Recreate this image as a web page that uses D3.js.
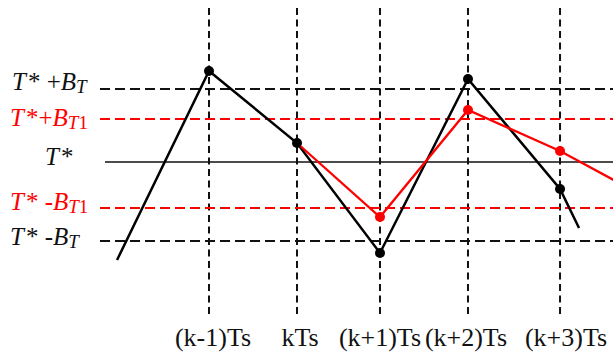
<!DOCTYPE html>
<html><head><meta charset="utf-8">
<script src="https://cdn.jsdelivr.net/npm/d3@7"></script>
<style>html,body{margin:0;padding:0;background:#fff;overflow:hidden}</style>
</head><body>
<svg id="c" width="613" height="358"></svg>
<script>
// ---- data ----
const tickLabels = ["(k-1)Ts", "kTs", "(k+1)Ts", "(k+2)Ts", "(k+3)Ts"];
const tickTimes  = [-1, 0, 0.943, 1.943, 2.989];
const levelLabels = ["T* +BT", "T*+BT1", "T*", "T* -BT1", "T* -BT"];
const levelValues = [73, 43, 0, -46, -79];
const levelKind   = ["black", "red", "center", "red", "black"];
const blackTimes  = [-2.045, -1, 0, 0.943, 1.943, 2.989, 3.205];
const blackValues = [-98, 91, 19, -91, 83, -27, -66];
const blackDots   = [1, 2, 3, 4, 5];
const redTimes    = [0, 0.943, 1.943, 2.989, 3.6];
const redValues   = [19, -55, 52, 11, -18];
const redDots     = [1, 2, 3];

// ---- scales ----
const svg = d3.select("#c");
const x = d3.scaleLinear().domain([-2, 3]).range([121, 561]);
const y = d3.scaleLinear().domain([-100, 100]).range([262, 62]);
const RED = "#ff0000";
const FONT = '"Liberation Serif"';

// vertical dashed grid lines
svg.append("g").selectAll("line").data(tickTimes).join("line")
  .attr("x1", d => x(d)).attr("x2", d => x(d))
  .attr("y1", 8).attr("y2", 318)
  .attr("stroke", "#111").attr("stroke-width", 2)
  .attr("stroke-dasharray", "7,4.5");

// horizontal levels
svg.append("g").selectAll("line").data(levelValues).join("line")
  .attr("x1", (d, i) => levelKind[i] === "center" ? 105 : 100).attr("x2", 613)
  .attr("y1", d => y(d)).attr("y2", d => y(d))
  .attr("stroke", (d, i) => levelKind[i] === "red" ? RED : "#111")
  .attr("stroke-width", (d, i) => levelKind[i] === "center" ? 1.6 : 2)
  .attr("stroke-dasharray", (d, i) => levelKind[i] === "center" ? null : "10,5");

// level labels
const labelX = [12, 10, 45, 10, 10];
const labelDy = [1, 7, 3, 2, 4];
levelLabels.forEach((s, i) => {
  const m = s.match(/^T\*( ?)([+-])?B?(T)?(1)?$/);
  const t = svg.append("text").attr("x", labelX[i]).attr("y", y(levelValues[i]) + labelDy[i])
    .style("font-family", FONT).style("font-size", "25px")
    .attr("fill", levelKind[i] === "red" ? RED : "#111");
  t.append("tspan").style("font-style", "italic").text("T");
  t.append("tspan").attr("dx", 2).text("*" + (m[1] ? "\u00a0" : ""));
  if (m[2]) {
    t.append("tspan").text(m[2] === "-" ? "-" : "+");
    t.append("tspan").style("font-style", "italic").text("B");
    t.append("tspan").style("font-style", "italic").style("font-size", "19px").attr("dy", 3).text("T");
    if (m[4]) t.append("tspan").style("font-size", "19px").text("1");
  }
});

// tick labels
const tickDx = [4, 3, 0, -2, 6];
svg.append("g").selectAll("text").data(tickLabels).join("text")
  .attr("x", (d, i) => x(tickTimes[i]) + tickDx[i]).attr("y", 346)
  .attr("text-anchor", "middle")
  .style("font-family", FONT).style("font-size", "26px")
  .attr("fill", "#111").text(d => d);

// series lines
const line = d3.line().x(d => x(d[0])).y(d => y(d[1]));
const blackPts = blackTimes.map((t, i) => [t, blackValues[i]]);
const redPts = redTimes.map((t, i) => [t, redValues[i]]);
svg.append("path").datum(blackPts).attr("d", line)
  .attr("fill", "none").attr("stroke", "#000").attr("stroke-width", 2.5);
svg.append("path").datum(redPts).attr("d", line)
  .attr("fill", "none").attr("stroke", RED).attr("stroke-width", 2.3);

// dots
svg.append("g").selectAll("circle").data(redDots).join("circle")
  .attr("cx", i => x(redTimes[i])).attr("cy", i => y(redValues[i])).attr("r", 5).attr("fill", RED);
svg.append("g").selectAll("circle").data(blackDots).join("circle")
  .attr("cx", i => x(blackTimes[i])).attr("cy", i => y(blackValues[i])).attr("r", 5).attr("fill", "#000");
</script>
</body></html>
